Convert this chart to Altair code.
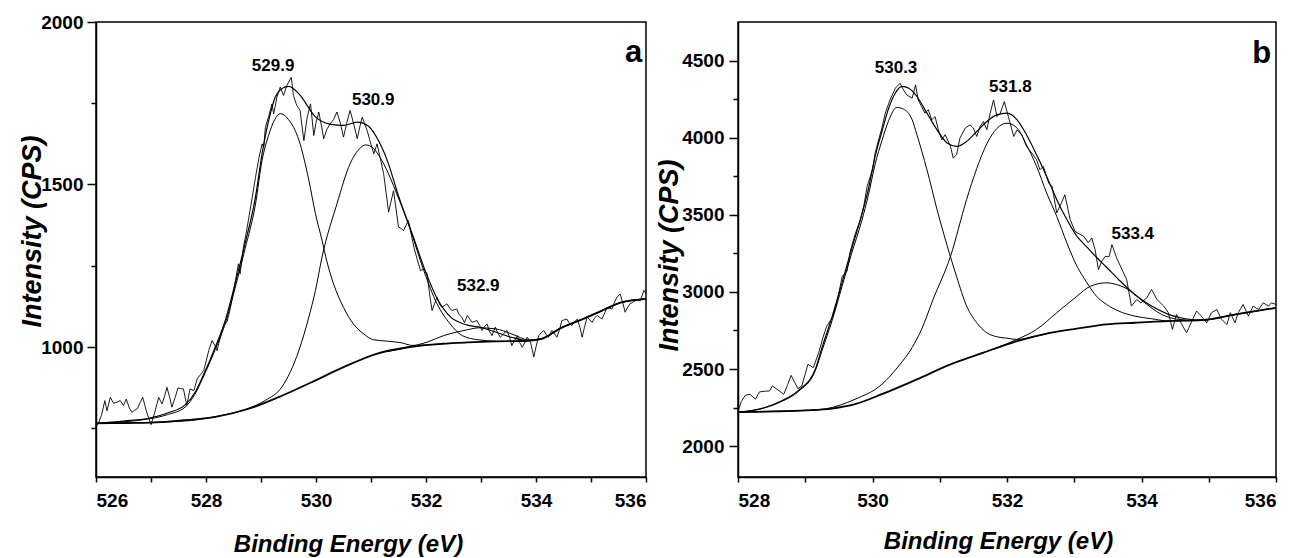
import altair as alt
import pandas as pd

# ---------------- panel a ----------------
A_RAW_X = [526.00, 526.05, 526.10, 526.16, 526.20, 526.26, 526.32, 526.38, 526.44, 526.50,
           526.55, 526.60, 526.65, 526.70, 526.75, 526.80, 526.85, 526.92, 527.00, 527.07,
           527.14, 527.20, 527.25, 527.29, 527.34, 527.38, 527.44, 527.49, 527.54, 527.59,
           527.65, 527.71, 527.78, 527.84, 527.90, 527.96, 528.05, 528.11, 528.16, 528.20,
           528.26, 528.32, 528.38, 528.43, 528.47, 528.53, 528.59, 528.62, 528.68, 528.73,
           528.78, 528.84, 528.90, 528.96, 529.02, 529.05, 529.08, 529.14, 529.20, 529.23,
           529.29, 529.35, 529.41, 529.47, 529.55, 529.59, 529.65, 529.71, 529.78, 529.84,
           529.90, 529.96, 530.00, 530.05, 530.10, 530.14, 530.20, 530.26, 530.32, 530.38,
           530.44, 530.50, 530.56, 530.62, 530.68, 530.75, 530.80, 530.84, 530.93, 530.99,
           531.05, 531.11, 531.17, 531.23, 531.32, 531.41, 531.50, 531.55, 531.59, 531.68,
           531.78, 531.84, 531.90, 531.96, 532.02, 532.06, 532.11, 532.16, 532.20, 532.25,
           532.29, 532.34, 532.38, 532.43, 532.47, 532.52, 532.56, 532.60, 532.65, 532.70,
           532.75, 532.80, 532.84, 532.90, 532.93, 532.98, 533.02, 533.06, 533.11, 533.15,
           533.20, 533.26, 533.30, 533.35, 533.41, 533.47, 533.52, 533.56, 533.61, 533.66,
           533.70, 533.75, 533.80, 533.84, 533.90, 533.96, 534.00, 534.05, 534.10, 534.14,
           534.18, 534.22, 534.26, 534.29, 534.34, 534.38, 534.43, 534.47, 534.52, 534.56,
           534.60, 534.65, 534.70, 534.75, 534.80, 534.84, 534.88, 534.93, 534.97, 535.02,
           535.06, 535.11, 535.15, 535.20, 535.25, 535.29, 535.33, 535.38, 535.42, 535.47,
           535.53, 535.58, 535.62, 535.66, 535.71, 535.76, 535.81, 535.85, 535.90, 535.96,
           536.00]
A_RAW_Y = [755, 768, 790, 835, 804, 845, 827, 830, 835, 820,
           840, 815, 799, 805, 810, 828, 845, 800, 761, 800,
           845, 825, 850, 876, 845, 815, 845, 874, 872, 871,
           820, 871, 866, 902, 915, 928, 989, 1020, 1005, 989,
           1030, 1066, 1076, 1110, 1143, 1200, 1256, 1225, 1307, 1350,
           1399, 1460, 1522, 1580, 1625, 1615, 1676, 1710, 1748, 1717,
           1769, 1800, 1774, 1805, 1830, 1774, 1743, 1728, 1635, 1707,
           1748, 1651, 1690, 1723, 1680, 1641, 1671, 1687, 1700, 1723,
           1690, 1646, 1690, 1728, 1690, 1641, 1680, 1707, 1666, 1630,
           1594, 1625, 1580, 1533, 1415, 1481, 1369, 1365, 1358, 1389,
           1307, 1270, 1235, 1240, 1225, 1170, 1112, 1135, 1153, 1130,
           1122, 1128, 1133, 1120, 1112, 1115, 1117, 1100, 1092, 1075,
           1097, 1085, 1076, 1080, 1081, 1065, 1051, 1062, 1071, 1050,
           1035, 1061, 1045, 1030, 1040, 1051, 1030, 1004, 1020, 1035,
           1015, 999, 1015, 1030, 1015, 969, 1000, 1035, 1045, 1051,
           1040, 1030, 1042, 1051, 1040, 1030, 1055, 1081, 1084, 1086,
           1075, 1066, 1076, 1086, 1060, 1030, 1060, 1092, 1085, 1076,
           1088, 1097, 1092, 1086, 1105, 1122, 1120, 1117, 1135, 1153,
           1163, 1135, 1107, 1120, 1133, 1138, 1143, 1143, 1143, 1174,
           1165]

A_ENV_X = [526.0, 526.5, 527.0, 527.3, 527.62, 527.8, 527.93, 528.17, 528.35, 528.53,
           528.71, 528.9, 529.02, 529.14, 529.26, 529.38, 529.5, 529.69, 529.99, 530.25,
           530.5, 530.75, 530.95, 531.1, 531.3, 531.5, 531.75, 532.0, 532.2, 532.45,
           532.7, 533.0, 533.25, 533.55, 533.85, 534.1, 534.45, 534.85, 535.2, 535.55,
           536.0]
A_ENV_Y = [765, 772, 782, 797, 822, 860, 905, 1000, 1082, 1195,
           1318, 1462, 1595, 1697, 1769, 1795, 1802, 1779, 1708, 1686,
           1682, 1692, 1680, 1646, 1572, 1465, 1348, 1228, 1150, 1092,
           1070, 1060, 1047, 1030, 1020, 1025, 1058, 1086, 1112, 1137,
           1148]

A_BG_X = [526.0, 526.5, 527.0, 527.56, 528.17, 528.78, 529.38, 529.9, 530.5, 531.1,
          531.7, 532.3, 532.75, 533.25, 533.85, 534.1, 534.45, 534.85, 535.2, 535.55,
          536.0]
A_BG_Y = [765, 766, 767, 774, 785, 810, 850, 890, 938, 979,
          1000, 1010, 1014, 1017, 1019, 1025, 1058, 1086, 1112, 1137,
          1148]

A_P1_X = [526.0, 527.0, 527.3, 527.62, 527.8, 527.93, 528.17, 528.35, 528.53, 528.71,
          528.9, 529.02, 529.14, 529.25, 529.35, 529.5, 529.69, 529.87, 529.99, 530.11,
          530.2, 530.32, 530.5, 530.68, 530.87, 531.05, 531.3, 531.55, 531.75, 532.3]
A_P1_Y = [765, 780, 792, 815, 855, 900, 993, 1072, 1182, 1302,
          1440, 1575, 1652, 1700, 1718, 1700, 1636, 1513, 1410, 1328,
          1262, 1194, 1122, 1071, 1040, 1022, 1018, 1013, 1005, 1010]

A_P2_X = [526.0, 527.5, 528.3, 528.78, 529.08, 529.38, 529.69, 529.87, 529.99, 530.11,
          530.38, 530.62, 530.81, 530.9, 531.05, 531.23, 531.47, 531.72, 531.96, 532.2,
          532.44, 532.66, 532.96, 533.44, 533.85]
A_P2_Y = [765, 771, 790, 812, 836, 877, 990, 1092, 1174, 1277,
          1440, 1564, 1613, 1622, 1610, 1564, 1471, 1358, 1235, 1133,
          1071, 1035, 1022, 1017, 1019]

A_P3_X = [531.3, 531.72, 532.02, 532.32, 532.56, 532.75, 532.96, 533.26, 533.56, 533.87, 534.1]
A_P3_Y = [986, 1001, 1015, 1035, 1046, 1053, 1059, 1056, 1040, 1022, 1025]

A_LAB_X = [529.22, 531.04, 532.95]
A_LAB_Y = [1865, 1759, 1188]
A_LAB_T = ["529.9", "530.9", "532.9"]

# ---------------- panel b ----------------
B_RAW_X = [528.00, 528.05, 528.11, 528.18, 528.26, 528.32, 528.40, 528.47, 528.51, 528.58,
           528.68, 528.74, 528.79, 528.89, 528.95, 529.04, 529.12, 529.20, 529.27, 529.32,
           529.40, 529.47, 529.55, 529.62, 529.67, 529.74, 529.82, 529.87, 529.92, 530.00,
           530.04, 530.09, 530.14, 530.19, 530.26, 530.34, 530.41, 530.46, 530.51, 530.59,
           530.64, 530.68, 530.73, 530.78, 530.83, 530.88, 530.93, 530.98, 531.03, 531.08,
           531.16, 531.20, 531.25, 531.30, 531.38, 531.45, 531.50, 531.55, 531.60, 531.65,
           531.70, 531.75, 531.80, 531.85, 531.90, 531.96, 532.02, 532.10, 532.15, 532.22,
           532.29, 532.37, 532.44, 532.49, 532.54, 532.62, 532.67, 532.74, 532.81, 532.86,
           532.94, 533.01, 533.09, 533.14, 533.21, 533.26, 533.31, 533.36, 533.41, 533.46,
           533.52, 533.56, 533.63, 533.71, 533.78, 533.85, 533.93, 533.99, 534.08, 534.15,
           534.23, 534.33, 534.40, 534.46, 534.52, 534.60, 534.67, 534.75, 534.82, 534.89,
           534.97, 535.04, 535.12, 535.19, 535.27, 535.32, 535.39, 535.44, 535.51, 535.59,
           535.66, 535.74, 535.81, 535.89, 535.93, 536.00]
B_RAW_Y = [2228, 2290, 2330, 2336, 2304, 2352, 2356, 2358, 2391, 2369,
           2336, 2400, 2459, 2373, 2391, 2531, 2509, 2606, 2714, 2778,
           2832, 2929, 3102, 3134, 3264, 3372, 3469, 3555, 3684, 3792,
           3900, 3986, 4062, 4159, 4245, 4321, 4353, 4310, 4277, 4256,
           4342, 4245, 4202, 4159, 4181, 4116, 4137, 4051, 3986, 4019,
           3943, 3868, 3889, 3997, 4062, 4083, 4062, 4008, 4073, 4105,
           4051, 4159, 4245, 4137, 4159, 4234, 4137, 4008, 4051, 4019,
           3943, 3900, 3857, 3792, 3814, 3706, 3684, 3512, 3577, 3630,
           3469, 3393, 3372, 3361, 3318, 3350, 3274, 3145, 3200, 3230,
           3230, 3307, 3221, 3145, 3080, 2908, 2951, 2929, 2962, 3016,
           2951, 2908, 2865, 2757, 2854, 2789, 2735, 2811, 2876, 2843,
           2800, 2865, 2886, 2822, 2789, 2865, 2800, 2865, 2919, 2843,
           2908, 2886, 2929, 2908, 2929, 2919]

B_ENV_X = [528.0, 528.41, 528.65, 528.9, 529.15, 529.25, 529.4, 529.55, 529.69, 529.84,
           529.94, 530.04, 530.14, 530.24, 530.34, 530.44, 530.54, 530.66, 530.81, 530.96,
           531.11, 531.25, 531.4, 531.55, 531.7, 531.85, 532.0, 532.15, 532.29, 532.44,
           532.59, 532.74, 532.89, 533.04, 533.19, 533.33, 533.48, 533.66, 533.9, 534.15,
           534.4, 534.65, 534.9, 535.4, 536.0]
B_ENV_Y = [2220, 2252, 2294, 2362, 2498, 2640, 2840, 3065, 3280, 3500,
           3670, 3880, 4040, 4190, 4290, 4332, 4320, 4267, 4159, 4051,
           3965, 3943, 3976, 4040, 4105, 4148, 4159, 4116, 4019, 3889,
           3749, 3598, 3469, 3361, 3290, 3225, 3160, 3080, 2983, 2908,
           2854, 2826, 2817, 2854, 2897]

B_BG_X = [528.0, 528.5, 529.0, 529.4, 529.74, 530.14, 530.66, 531.16, 531.65, 532.15,
          532.64, 533.14, 533.48, 533.9, 534.4, 534.9, 535.4, 536.0]
B_BG_Y = [2220, 2225, 2232, 2244, 2272, 2337, 2433, 2530, 2606, 2681,
          2735, 2768, 2789, 2800, 2811, 2817, 2854, 2897]

B_P1_X = [528.0, 528.41, 528.65, 528.9, 529.15, 529.25, 529.4, 529.55, 529.69, 529.84,
          529.94, 530.04, 530.14, 530.24, 530.36, 530.46, 530.59, 530.66, 530.81, 530.96,
          531.11, 531.25, 531.4, 531.55, 531.7, 531.85, 532.0, 532.15, 532.4, 532.64]
B_P1_Y = [2220, 2250, 2290, 2355, 2490, 2620, 2815, 3040, 3250, 3460,
          3630, 3830, 3980, 4110, 4196, 4185, 4116, 4020, 3792, 3533,
          3300, 3100, 2908, 2800, 2735, 2709, 2700, 2692, 2710, 2735]

B_P2_X = [528.0, 529.0, 529.3, 529.74, 530.14, 530.39, 530.59, 530.73, 530.9, 531.16,
          531.4, 531.55, 531.7, 531.85, 532.0, 532.15, 532.29, 532.44, 532.59, 532.74,
          532.89, 533.04, 533.19, 533.33, 533.48, 533.66, 533.9, 534.15, 534.4, 534.9]
B_P2_Y = [2220, 2232, 2242, 2304, 2401, 2520, 2640, 2757, 2950, 3231,
          3600, 3800, 3960, 4060, 4094, 4062, 3954, 3814, 3641, 3490,
          3318, 3167, 3059, 2972, 2919, 2876, 2843, 2826, 2812, 2817]

B_P3_X = [531.5, 531.8, 532.15, 532.44, 532.74, 533.04, 533.24, 533.48, 533.56, 533.8,
          534.05, 534.3, 534.55, 534.8, 534.9]
B_P3_Y = [2583, 2630, 2692, 2757, 2865, 2972, 3037, 3059, 3055, 3016,
          2929, 2854, 2822, 2815, 2817]

B_LAB_X = [530.35, 532.05, 533.87]
B_LAB_Y = [4453, 4329, 3377]
B_LAB_T = ["530.3", "531.8", "533.4"]

X_TICKS_A = [526, 527, 528, 529, 530, 531, 532, 533, 534, 535, 536]
X_TICKS_B = [528, 529, 530, 531, 532, 533, 534, 535, 536]
Y_TICKS_A = [750, 1000, 1250, 1500, 1750, 2000]
Y_TICKS_B = [2000, 2250, 2500, 2750, 3000, 3250, 3500, 3750, 4000, 4250, 4500]

FONT = "Liberation Sans"


def line_df(xs, ys):
    return pd.DataFrame({"x": xs, "y": ys})


def panel(raw, env, bg, comps, labs, letter, xdom, ydom, xticks, yticks, w, h,
          xtx, xty, ytx, yty, ylabpad):
    xax = alt.Axis(values=xticks, format="d",
                   labelExpr="datum.value % 2 === 0 ? datum.label : ''",
                   tickSize=5, tickWidth=1.5, tickColor="black",
                   domainColor="black", domainWidth=1.5, grid=False,
                   labelFont=FONT, labelFontSize=19, labelFontWeight="bold",
                   labelColor="black", labelPadding=9,
                   title="Binding Energy (eV)", titleFont=FONT, titleFontSize=24,
                   titleFontWeight="bold", titleFontStyle="italic", titleColor="black",
                   titleX=xtx, titleY=xty, titleBaseline="alphabetic", titleAlign="center")
    yax = alt.Axis(values=yticks, format="d",
                   labelExpr="datum.value % 500 === 0 ? datum.label : ''",
                   tickSize={"condition": {"test": "datum.value % 500 === 0", "value": 9}, "value": 5},
                   tickWidth=1.5, tickColor="black",
                   domainColor="black", domainWidth=1.5, grid=False,
                   labelFont=FONT, labelFontSize=19, labelFontWeight="bold",
                   labelColor="black", labelPadding=ylabpad,
                   title="Intensity (CPS)", titleFont=FONT, titleFontSize=27,
                   titleFontWeight="bold", titleFontStyle="italic", titleColor="black",
                   titleX=ytx, titleY=yty, titleBaseline="middle", titleAlign="center",
                   titleAngle=270)
    X = alt.X("x:Q", scale=alt.Scale(domain=xdom, nice=False, zero=False), axis=xax)
    Y = alt.Y("y:Q", scale=alt.Scale(domain=ydom, nice=False, zero=False), axis=yax)

    layers = [alt.Chart(line_df(*raw)).mark_line(color="black", strokeWidth=0.9).encode(x=X, y=Y)]
    for cx, cy in comps:
        layers.append(alt.Chart(line_df(cx, cy)).mark_line(
            color="black", strokeWidth=1.0, interpolate="monotone").encode(x="x:Q", y="y:Q"))
    layers.append(alt.Chart(line_df(*env)).mark_line(
        color="black", strokeWidth=1.2, interpolate="monotone").encode(x="x:Q", y="y:Q"))
    layers.append(alt.Chart(line_df(*bg)).mark_line(
        color="black", strokeWidth=1.8, interpolate="monotone").encode(x="x:Q", y="y:Q"))
    lx, ly, lt = labs
    layers.append(alt.Chart(pd.DataFrame({"x": lx, "y": ly, "t": lt})).mark_text(
        font=FONT, fontSize=17, fontWeight="bold", color="black",
        align="center", baseline="middle").encode(x="x:Q", y="y:Q", text="t:N"))
    lt2x, lt2y, lt2t = letter
    layers.append(alt.Chart(pd.DataFrame({"x": [lt2x], "y": [lt2y], "t": [lt2t]})).mark_text(
        font=FONT, fontSize=31, fontWeight="bold", color="black",
        align="right", baseline="alphabetic").encode(x="x:Q", y="y:Q", text="t:N"))
    return alt.layer(*layers).properties(width=w, height=h)


left = panel((A_RAW_X, A_RAW_Y), (A_ENV_X, A_ENV_Y), (A_BG_X, A_BG_Y),
             [(A_P1_X, A_P1_Y), (A_P2_X, A_P2_Y), (A_P3_X, A_P3_Y)],
             (A_LAB_X, A_LAB_Y, A_LAB_T), (535.93, 1877, "a"),
             [526, 536], [600, 2000], X_TICKS_A, Y_TICKS_A, 550, 455,
             252, 74, -64, 209, 4)
right = panel((B_RAW_X, B_RAW_Y), (B_ENV_X, B_ENV_Y), (B_BG_X, B_BG_Y),
              [(B_P1_X, B_P1_Y), (B_P2_X, B_P2_Y), (B_P3_X, B_P3_Y)],
              (B_LAB_X, B_LAB_Y, B_LAB_T), (535.93, 4483, "b"),
              [528, 536], [1800, 4750], X_TICKS_B, Y_TICKS_B, 538, 455,
              260, 71, -69, 233, 5)

chart = alt.hconcat(left, right, spacing=92, bounds="flush").properties(
    padding={"left": 9, "top": 4, "right": 0, "bottom": 0},
    background="white"
).configure_view(stroke="black", strokeWidth=1.5)

chart.save("out.html", embed_options={"renderer": "svg", "actions": False})
